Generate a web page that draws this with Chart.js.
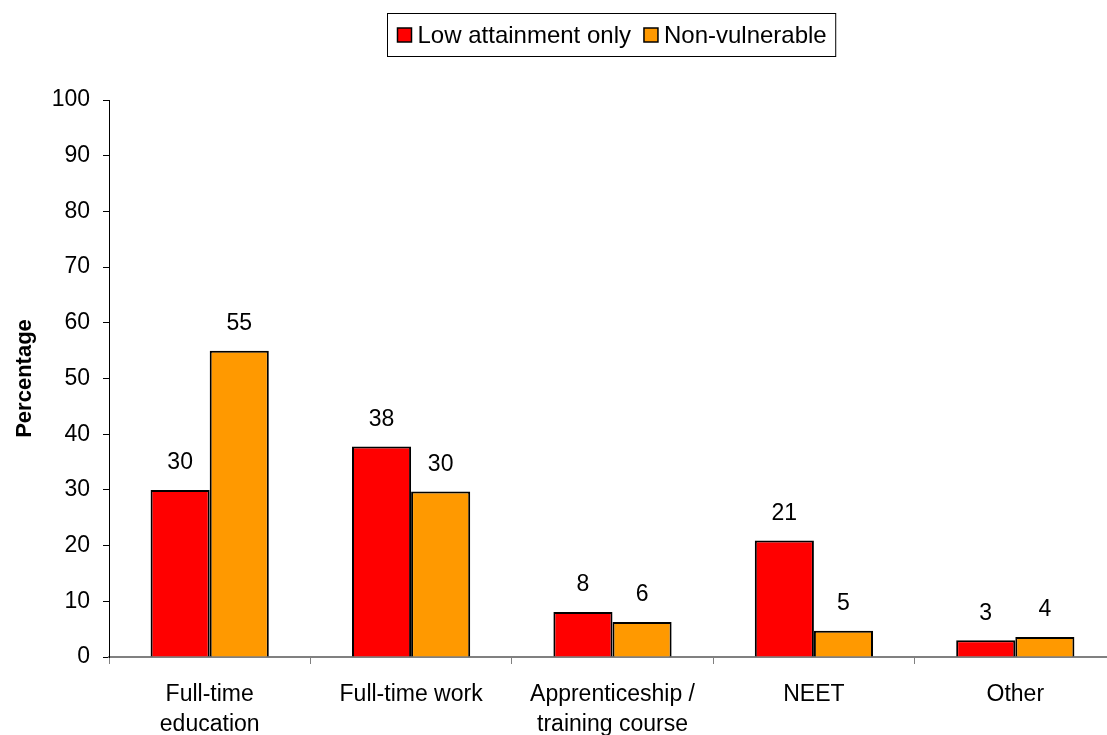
<!DOCTYPE html>
<html>
<head>
<meta charset="utf-8">
<script src="https://cdn.jsdelivr.net/npm/chart.js@4/dist/chart.umd.min.js"></script>
<style>
  html, body { margin: 0; padding: 0; background: #fff; overflow: hidden; }
  #wrap { width: 1116px; height: 735px; position: relative; }
</style>
</head>
<body>
<div id="wrap"><canvas id="chart"></canvas></div>
<script>
// data
const categories = [['Full-time', 'education'], 'Full-time work', ['Apprenticeship /', 'training course'], 'NEET', 'Other'];
const lowAttainment = [30, 37.8, 8.1, 20.9, 3.0];
const nonVulnerable = [55, 29.7, 6.3, 4.7, 3.6];
const seriesNames = ['Low attainment only', 'Non-vulnerable'];
const seriesColors = ['#FF0000', '#FF9900'];
const yTicks = [0, 10, 20, 30, 40, 50, 60, 70, 80, 90, 100];

const FONT = 'Arial, "Liberation Sans", sans-serif';

// value labels above each bar
const valueLabels = {
    id: 'valueLabels',
    afterDatasetsDraw: (chart) => {
        const ctx = chart.ctx;
        ctx.save();
        ctx.font = '23px ' + FONT;
        ctx.fillStyle = '#000';
        ctx.textAlign = 'center';
        ctx.textBaseline = 'middle';
        chart.data.datasets.forEach((ds, i) => {
            chart.getDatasetMeta(i).data.forEach((bar, j) => {
                ctx.fillText(Math.round(ds.data[j]), bar.x, bar.y - 27);
            });
        });
        ctx.restore();
    }
};

// boxed legend at the top, centred over the visible plot area
const boxLegend = {
    id: 'boxLegend',
    afterDraw: (chart) => {
        const ctx = chart.ctx;
        ctx.save();
        ctx.font = '24px ' + FONT;
        const sw = 14, gapSw = 6, gapItem = 13;
        const widths = seriesNames.map(n => sw + gapSw + ctx.measureText(n).width);
        const inner = widths.reduce((a, b) => a + b, 0) + gapItem;
        const boxW = inner + 19, boxH = 43;
        const left = 387.5, top = 13.5;
        ctx.strokeStyle = '#000';
        ctx.lineWidth = 1;
        ctx.strokeRect(left, top, boxW, boxH);
        let x = left + 10;
        const cy = top + boxH / 2;
        seriesNames.forEach((n, i) => {
            ctx.fillStyle = seriesColors[i];
            ctx.fillRect(x, cy - sw / 2, sw, sw);
            ctx.lineWidth = 1.5;
            ctx.strokeRect(x, cy - sw / 2, sw, sw);
            ctx.fillStyle = '#000';
            ctx.textBaseline = 'middle';
            ctx.fillText(n, x + sw + gapSw, cy + 1);
            x += widths[i] + gapItem;
        });
        ctx.restore();
    }
};

new Chart(document.getElementById('chart'), {
    type: 'bar',
    data: {
        labels: categories,
        datasets: [
            { label: seriesNames[0], data: lowAttainment, backgroundColor: seriesColors[0], borderColor: '#000', borderWidth: 2 },
            { label: seriesNames[1], data: nonVulnerable, backgroundColor: seriesColors[1], borderColor: '#000', borderWidth: 2 }
        ]
    },
    options: {
        responsive: true,
        maintainAspectRatio: false,
        animation: false,
        layout: { padding: { top: 100, right: 0, left: 0, bottom: 0 } },
        datasets: { bar: { barPercentage: 1, categoryPercentage: 0.587 } },
        plugins: { legend: { display: false }, tooltip: { enabled: false } },
        scales: {
            x: {
                grid: { drawOnChartArea: false, color: '#808080', tickLength: 7, offset: true },
                border: { color: '#808080', width: 2 },
                ticks: { color: '#000', font: { size: 23, family: FONT, lineHeight: 1.32 }, padding: 15, maxRotation: 0, autoSkip: false },
                afterFit: (s) => { s.height = 78; }
            },
            y: {
                min: 0, max: 100,
                afterBuildTicks: (s) => { s.ticks = yTicks.map(v => ({ value: v })); },
                grid: { drawOnChartArea: false, color: '#000', tickLength: 6 },
                border: { color: '#000', width: 1 },
                ticks: { color: '#000', font: { size: 23, family: FONT }, padding: 13 },
                title: { display: true, text: 'Percentage', color: '#000', font: { size: 22, weight: 'bold', family: FONT }, padding: { top: 12, bottom: 0 } },
                afterFit: (s) => { s.width = 109; }
            }
        }
    },
    plugins: [valueLabels, boxLegend]
});
</script>
</body>
</html>
